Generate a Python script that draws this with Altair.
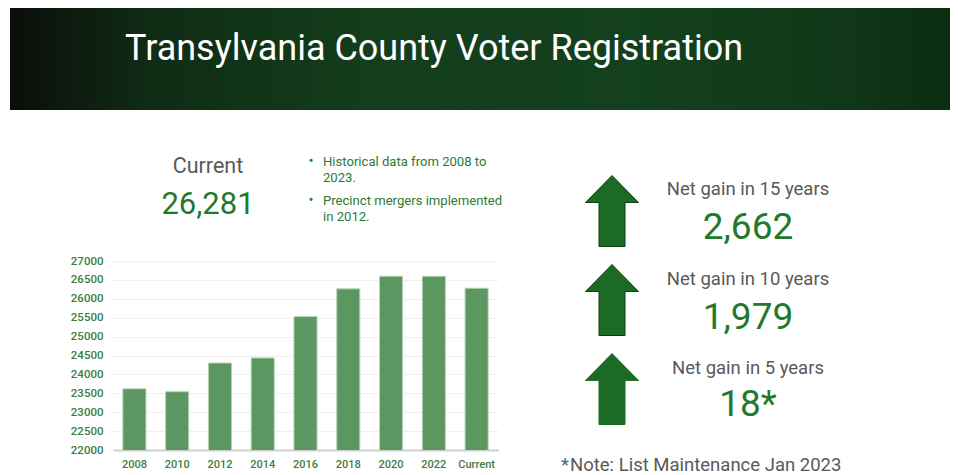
import altair as alt
import pandas as pd

# ---- data ----
years = ["2008", "2010", "2012", "2014", "2016", "2018", "2020", "2022", "Current"]
registered = [23619, 23543, 24302, 24435, 25529, 26263, 26597, 26595, 26281]
y_ticks = [22000, 22500, 23000, 23500, 24000, 24500, 25000, 25500, 26000, 26500, 27000]

title_text = ["Transylvania County Voter Registration"]
current_label = ["Current"]
current_value = ["26,281"]
bullet_lines = ["Historical data from 2008 to", "2023.", "Precinct mergers implemented", "in 2012."]
gain_labels = ["Net gain in 15 years", "Net gain in 10 years", "Net gain in 5 years"]
gain_values = ["2,662", "1,979", "18*"]
note_star = ["*"]
note_text = ["Note: List Maintenance Jan 2023"]

df = pd.DataFrame({"year": years, "voters": registered})

# plot origin in page coords is (113, 261); helpers convert page px -> plot px
OX, OY = 113, 261
def px(x):
    return x - OX
def py(y):
    return y - OY

GREEN_TXT = "#1f7a2c"
GRAY_TXT = "#595959"
FONT = "Roboto"

one = pd.DataFrame({"k": [0]})

header_grad = alt.Gradient(
    gradient="linear",
    stops=[
        alt.GradientStop(color="#0b0e0b", offset=0),
        alt.GradientStop(color="#0f2c14", offset=0.15),
        alt.GradientStop(color="#133d1b", offset=0.38),
        alt.GradientStop(color="#14411d", offset=0.66),
        alt.GradientStop(color="#103818", offset=0.88),
        alt.GradientStop(color="#0b2d10", offset=1),
    ],
    x1=0, y1=0, x2=1, y2=0,
)

header = alt.Chart(one).mark_rect(fill=header_grad).encode(
    x=alt.value(px(10)), x2=alt.value(px(950)),
    y=alt.value(py(8)), y2=alt.value(py(110)),
)

title = alt.Chart(pd.DataFrame({"t": title_text})).mark_text(
    font=FONT, fontSize=36, color="white", align="left", baseline="alphabetic"
).encode(x=alt.value(px(125)), y=alt.value(py(60)), text="t:N")

bars = alt.Chart(df).mark_bar(
    color="#5c9661", stroke="#b9d4b9", strokeWidth=1, clip=True
).encode(
    x=alt.X("year:N", sort=years, title=None,
            scale=alt.Scale(paddingInner=0.46, paddingOuter=0.23),
            axis=alt.Axis(labelAngle=0, labelColor="#3c7d42", labelFont=FONT,
                          labelFontSize=11, labelFontWeight=500, ticks=False,
                          domainColor="#cfcfcf", domainWidth=2, labelPadding=8,
                          grid=False)),
    y=alt.Y("voters:Q", title=None,
            scale=alt.Scale(domain=[22000, 27000], nice=False, zero=False),
            axis=alt.Axis(values=y_ticks, format="d", labelColor="#3c7d42", labelFont=FONT,
                          labelFontSize=11.5, labelFontWeight=500, ticks=False,
                          domain=False, gridColor="#efefef", labelPadding=10)),
)

layers = [header, title, bars]

# Current label / value
layers.append(alt.Chart(pd.DataFrame({"t": current_label})).mark_text(
    font=FONT, fontSize=21.5, color=GRAY_TXT, align="center", baseline="middle"
).encode(x=alt.value(px(208)), y=alt.value(py(167)), text="t:N"))
layers.append(alt.Chart(pd.DataFrame({"t": current_value})).mark_text(
    font=FONT, fontSize=31, color=GREEN_TXT, align="center", baseline="middle"
).encode(x=alt.value(px(208)), y=alt.value(py(205)), text="t:N"))

# Bullets
bullet_y = [162, 178, 201, 217]
for line, yy in zip(bullet_lines, bullet_y):
    layers.append(alt.Chart(pd.DataFrame({"t": [line]})).mark_text(
        font=FONT, fontSize=13.1, color="#2d7a34", align="left", baseline="middle"
    ).encode(x=alt.value(px(323)), y=alt.value(py(yy)), text="t:N"))
for yy in [bullet_y[0], bullet_y[2]]:
    layers.append(alt.Chart(pd.DataFrame({"t": ["•"]})).mark_text(
        font=FONT, fontSize=15, color="#2d7a34", align="center", baseline="middle"
    ).encode(x=alt.value(px(311)), y=alt.value(py(yy - 1)), text="t:N"))

# Arrows
arrow_path = "M0,-1 L0.746,-0.24 L0.366,-0.24 L0.366,1 L-0.366,1 L-0.366,-0.24 L-0.746,-0.24 Z"
arrow_centers = [211, 300, 389]
arrow_strokes = ["#0c3a10", "#0c3a10", "#1c6b25"]
for cy, sc in zip(arrow_centers, arrow_strokes):
    layers.append(alt.Chart(one).mark_point(
        shape=arrow_path, size=71 * 71, filled=True, fill="#1c6b25",
        stroke=sc, strokeWidth=1, opacity=1
    ).encode(x=alt.value(px(612)), y=alt.value(py(cy))))

# Gains
label_y = [189, 279, 368]
value_y = [228, 318, 405]
for lab, val, ly, vy in zip(gain_labels, gain_values, label_y, value_y):
    layers.append(alt.Chart(pd.DataFrame({"t": [lab]})).mark_text(
        font=FONT, fontSize=18.5, color=GRAY_TXT, align="center", baseline="middle"
    ).encode(x=alt.value(px(748)), y=alt.value(py(ly)), text="t:N"))
    layers.append(alt.Chart(pd.DataFrame({"t": [val]})).mark_text(
        font=FONT, fontSize=37, color=GREEN_TXT, align="center", baseline="middle"
    ).encode(x=alt.value(px(748)), y=alt.value(py(vy)), text="t:N"))

# Note
layers.append(alt.Chart(pd.DataFrame({"t": note_star})).mark_text(
    font=FONT, fontSize=18.5, color="#2f6f9a", align="left", baseline="middle"
).encode(x=alt.value(px(561)), y=alt.value(py(465)), text="t:N"))
layers.append(alt.Chart(pd.DataFrame({"t": note_text})).mark_text(
    font=FONT, fontSize=18.5, color=GRAY_TXT, align="left", baseline="middle"
).encode(x=alt.value(px(570)), y=alt.value(py(465)), text="t:N"))

chart = alt.layer(*layers).properties(
    width=385, height=189,
    autosize=alt.AutoSizeParams(type="none"),
    padding={"left": 105, "top": 253, "right": 452, "bottom": 25},
    background="white",
).configure_view(stroke=None)

chart.save("out.html", embed_options={"renderer": "svg", "actions": False})
